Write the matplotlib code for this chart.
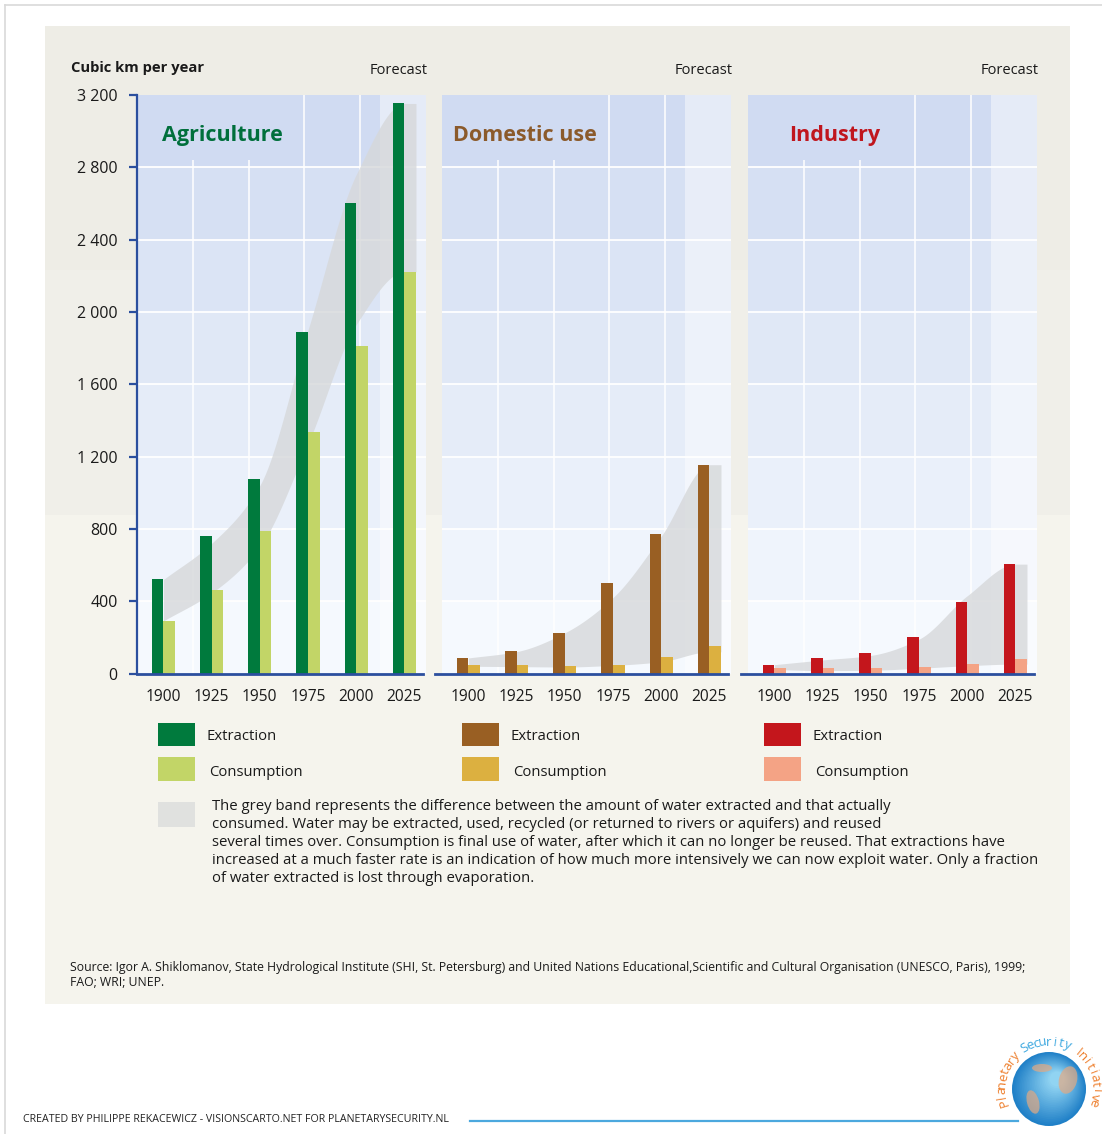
import numpy as np
import matplotlib
matplotlib.use("Agg")
import matplotlib.pyplot as plt
from matplotlib.patches import Rectangle, Circle, Ellipse

# ---------------- data ----------------
years = [1900, 1925, 1950, 1975, 2000, 2025]
year_labels = ["1900", "1925", "1950", "1975", "2000", "2025"]

agri_extraction = [520, 760, 1076, 1890, 2600, 3153]
agri_consumption = [291, 461, 790, 1336, 1813, 2222]
dom_extraction = [86, 123, 223, 500, 769, 1155]
dom_consumption = [45, 45, 42, 47, 90, 152]
ind_extraction = [46, 87, 114, 201, 397, 605]
ind_consumption = [28, 28, 28, 37, 52, 79]

# edges of the grey band (hand-drawn, read at each year)
agri_band_upper = [520, 720, 1040, 1900, 2760, 3153]
agri_band_lower = [291, 445, 700, 1270, 1930, 2222]
dom_band_upper = [86, 121, 225, 420, 760, 1155]
dom_band_lower = [40, 38, 36, 45, 65, 120]
ind_band_upper = [49, 75, 100, 190, 430, 605]
ind_band_lower = [22, 16, 18, 29, 43, 52]

y_ticks = [0, 400, 800, 1200, 1600, 2000, 2400, 2800, 3200]
panel_titles = ["Agriculture", "Domestic use", "Industry"]
legend_labels = ["Extraction", "Consumption"]

# ---------------- style ----------------
W, H = 1102, 1134
FONT = "Open Sans"
plt.rcParams["font.family"] = [FONT, "DejaVu Sans"]

ext_colors = ["#007a3d", "#995f23", "#c4161c"]
cons_colors = ["#c2d567", "#dcb040", "#f4a385"]
title_colors = ["#006f3c", "#8b5a2b", "#c0161e"]
AXIS_BLUE = "#2b4f9e"
band_bg = ["#f5f9fe", "#eff4fc", "#eaf0fa", "#e5ecf8",
           "#e0e8f6", "#dbe4f5", "#d6e0f3", "#d0dbf2"]
BAND_GREY = "#d6d8da"

fig = plt.figure(figsize=(W / 100, H / 100), dpi=100)
bg = fig.add_axes([0, 0, 1, 1])
bg.set_xlim(0, W)
bg.set_ylim(H, 0)
bg.axis("off")

# frame + beige box
bg.plot([5, 5], [5, H], color="#d9d9d9", lw=1.2)
bg.plot([5, W], [5, 5], color="#d9d9d9", lw=1.2)
bg.add_patch(Rectangle((45, 26), 1025, 244, color="#eeede6", lw=0))
bg.add_patch(Rectangle((45, 270), 1025, 245, color="#f0efe9", lw=0))
bg.add_patch(Rectangle((45, 515), 1025, 489, color="#f5f4ed", lw=0))


def pchip(x, y, xs):
    x = np.asarray(x, float)
    y = np.asarray(y, float)
    h = np.diff(x)
    d = np.diff(y) / h
    m = np.zeros_like(y)
    m[0] = d[0]
    m[-1] = d[-1]
    for k in range(1, len(x) - 1):
        if d[k - 1] * d[k] > 0:
            w1 = 2 * h[k] + h[k - 1]
            w2 = h[k] + 2 * h[k - 1]
            m[k] = (w1 + w2) / (w1 / d[k - 1] + w2 / d[k])
    idx = np.clip(np.searchsorted(x, xs) - 1, 0, len(x) - 2)
    t = (xs - x[idx]) / h[idx]
    h00 = 2 * t**3 - 3 * t**2 + 1
    h10 = t**3 - 2 * t**2 + t
    h01 = -2 * t**3 + 3 * t**2
    h11 = t**3 - t**2
    return (h00 * y[idx] + h10 * h[idx] * m[idx] +
            h01 * y[idx + 1] + h11 * h[idx] * m[idx + 1])


def px_axes(x0, x1, y0, y1):
    return fig.add_axes([x0 / W, 1 - y1 / H, (x1 - x0) / W, (y1 - y0) / H])


panels = [
    (137, 426, agri_extraction, agri_consumption, agri_band_upper, agri_band_lower, 1899.3),
    (442, 731, dom_extraction, dom_consumption, dom_band_upper, dom_band_lower, 1892.0),
    (748, 1037, ind_extraction, ind_consumption, ind_band_upper, ind_band_lower, 1907.6),
]
BAR_W = 6
XMIN, XMAX = 1886.3, 2036.2
grid_x = [1915.3, 1944.4, 1972.9, 2001.9]
yrs = np.array(years, float)

for i, (x0, x1, ext, cons, bup, blo, tx) in enumerate(panels):
    ax = px_axes(x0, x1, 95, 673.5)
    ax.set_xlim(XMIN, XMAX)
    ax.set_ylim(0, 3200)
    for k in range(8):
        ax.axhspan(400 * k, 400 * (k + 1), color=band_bg[k], lw=0, zorder=0)
    ax.axvspan(2012.5, XMAX, color="white", alpha=0.45, lw=0, zorder=0.5)
    for v in y_ticks[1:-1]:
        ax.axhline(v, color="white", lw=1.3, zorder=1)
    for j, gx in enumerate(grid_x):
        top = 2840 if j < 2 else 3200
        ax.vlines(gx, 0, top, color="white", lw=1.1, zorder=1)

    # grey band
    bx = np.append(yrs, yrs[-1] + BAR_W)
    xs = np.linspace(bx[0], bx[-1], 400)
    upper = pchip(bx, list(bup) + [bup[-1]], xs)
    lower = pchip(bx, list(blo) + [blo[-1]], xs)
    ax.fill_between(xs, lower, upper, color=BAND_GREY, alpha=0.8, lw=0, zorder=2)

    ax.bar(yrs - BAR_W / 2, ext, width=BAR_W, color=ext_colors[i], lw=0, zorder=3)
    ax.bar(yrs + BAR_W / 2, cons, width=BAR_W, color=cons_colors[i], lw=0, zorder=3)

    ax.axhline(0, xmin=(0 if i == 0 else -0.024), xmax=0.99, color=AXIS_BLUE,
               lw=2, zorder=5, clip_on=False)

    for s in ["top", "right", "bottom"]:
        ax.spines[s].set_visible(False)
    ax.set_xticks(yrs)
    ax.set_xticklabels(year_labels)
    ax.tick_params(axis="x", length=0, pad=11, labelsize=11.2, labelcolor="#1a1a1a")
    if i == 0:
        ax.spines["left"].set_color(AXIS_BLUE)
        ax.spines["left"].set_linewidth(1.6)
        ax.spines["left"].set_zorder(6)
        ax.set_yticks(y_ticks)
        ax.set_yticklabels([f"{v:,}".replace(",", " ") for v in y_ticks])
        ax.tick_params(axis="y", direction="out", length=6, width=1.6,
                       color=AXIS_BLUE, pad=8, labelsize=11.5, labelcolor="#1a1a1a")
    else:
        ax.spines["left"].set_visible(False)
        ax.set_yticks([])

    ax.text(tx, 2975, panel_titles[i], color=title_colors[i], fontsize=15.5,
            fontweight="bold", ha="left", va="center", zorder=6)

    # Forecast label
    bg.text(x1 + 2, 71, "Forecast", fontsize=10.5, ha="right", va="center",
            color="#1a1a1a")

    # legend
    lx = [158, 462, 764][i]
    bg.add_patch(Rectangle((lx, 723), 37, 23, color=ext_colors[i], lw=0))
    bg.add_patch(Rectangle((lx, 757), 37, 24, color=cons_colors[i], lw=0))
    bg.text(lx + 49, 737, legend_labels[0], fontsize=10.7, va="center",
            color="#1a1a1a")
    bg.text(lx + 51, 772, legend_labels[1], fontsize=10.7, va="center",
            color="#1a1a1a")

bg.text(71, 68, "Cubic km per year", fontsize=10.6, fontweight="bold",
        va="center", color="#1a1a1a")

# grey band legend
bg.add_patch(Rectangle((158, 802), 37, 25, color="#e0e1df", lw=0))
note = ["The grey band represents the difference between the amount of water extracted and that actually",
        "consumed. Water may be extracted, used, recycled (or returned to rivers or aquifers) and reused",
        "several times over. Consumption is final use of water, after which it can no longer be reused. That extractions have",
        "increased at a much faster rate is an indication of how much more intensively we can now exploit water. Only a fraction",
        "of water extracted is lost through evaporation."]
for k, line in enumerate(note):
    bg.text(212, 806 + 18 * k, line, fontsize=10.7, va="center", color="#1a1a1a")

bg.text(70, 968, "Source: Igor A. Shiklomanov, State Hydrological Institute (SHI, St. Petersburg) and United Nations "
        "Educational,Scientific and Cultural Organisation (UNESCO, Paris), 1999;",
        fontsize=8.8, va="center", color="#1a1a1a")
bg.text(70, 983, "FAO; WRI; UNEP.", fontsize=8.8, va="center", color="#1a1a1a")

bg.text(23, 1119, "CREATED BY PHILIPPE REKACEWICZ - VISIONSCARTO.NET FOR PLANETARYSECURITY.NL",
        fontsize=7.7, va="center", color="#222222")
bg.plot([470, 1018], [1121, 1121], color="#4ba8de", lw=1.6)

# logo
cx, cy, r = 1049, 1089, 37
for k in range(24):
    f = k / 23
    col = (0.12 + 0.45 * f, 0.50 + 0.33 * f, 0.78 + 0.17 * f)
    rr = r * (1 - 0.8 * f)
    bg.add_patch(Circle((cx + 8 * f, cy - 10 * f), rr, color=col, lw=0))
for (ex, ey, ew, eh, ang) in [(1068, 1080, 18, 28, 15), (1033, 1102, 12, 24, -15),
                               (1042, 1068, 20, 8, 0)]:
    bg.add_patch(Ellipse((ex, ey), ew, eh, angle=ang, color="#e3a982", alpha=0.7, lw=0))
logo_text = "Planetary Security Initiative"
n = len(logo_text)
for k, ch in enumerate(logo_text):
    th = np.deg2rad(197 - 214 * k / (n - 1))
    x = cx + 47 * np.cos(th)
    y = cy - 47 * np.sin(th)
    col = "#3fa9e0" if 10 <= k <= 17 else "#ee7f2d"
    bg.text(x, y, ch, fontsize=9.5, color=col, ha="center", va="center",
            rotation=np.rad2deg(th) - 90)

fig.savefig("out.png", dpi=100)
